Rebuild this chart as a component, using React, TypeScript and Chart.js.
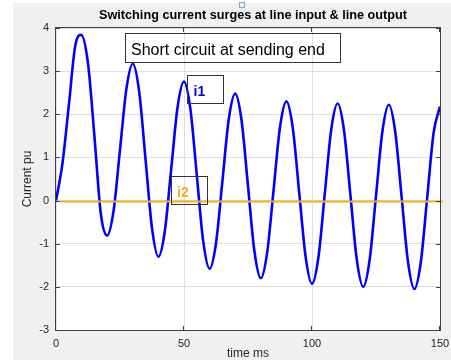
import React, { useEffect, useRef } from 'react';
import { Chart, registerables } from 'chart.js';

Chart.register(...registerables);

// ---- data ----
const timeI1 = [
  0, 2.5, 5, 7.5, 9.8, 12.5, 15, 17.5, 20, 22.5, 25, 27.5, 30, 32.5, 35, 37.5, 40, 42.5, 45, 47.5,
  50, 52.5, 55, 57.5, 60, 62.5, 65, 67.5, 70, 72.5, 75, 77.5, 80, 82.5, 85, 87.5, 90, 92.5, 95, 97.5,
  100, 102.5, 105, 107.5, 110, 112.5, 115, 117.5, 120, 122.5, 125, 127.5, 130, 132.5, 135, 137.5, 140,
  142.5, 145, 147.5, 150,
];
const currentI1 = [
  0, 0.85, 2.2, 3.58, 3.84, 3.18, 1.5, -0.3, -0.81, -0.23, 1.18, 2.59, 3.17, 2.52, 0.94, -0.64, -1.3,
  -0.71, 0.73, 2.17, 2.76, 2.12, 0.59, -0.94, -1.58, -0.99, 0.45, 1.89, 2.48, 1.85, 0.34, -1.17, -1.8,
  -1.2, 0.25, 1.7, 2.3, 1.68, 0.19, -1.3, -1.93, -1.32, 0.16, 1.64, 2.25, 1.63, 0.13, -1.37, -2.0,
  -1.38, 0.11, 1.6, 2.22, 1.6, 0.09, -1.42, -2.05, -1.43, 0.07, 1.57, 2.18,
];
const timeI2 = [1.6, 151.2];
const currentI2 = [-0.02, -0.02];

const xTickValues = [0, 50, 100, 150];
const yTickValues = [-3, -2, -1, 0, 1, 2, 3, 4];

const titleText = 'Switching current surges at line input & line output';
const xAxisTitle = 'time ms';
const yAxisTitle = 'Current pu';
const noteText = 'Short circuit at sending end';
const labelI1 = 'i1';
const labelI2 = 'i2';

const FONT = "'Liberation Sans', Arial, Helvetica, sans-serif";
const BLUE = '#0000ff';
const ORANGE = '#edb120';
const AXIS = '#262626';

const decorPlugin = {
  id: 'decor',
  beforeDraw(chart: any) {
    const { ctx, chartArea: a, width, height } = chart;
    ctx.save();
    ctx.fillStyle = '#ffffff';
    ctx.fillRect(0, 0, width, height);
    ctx.fillStyle = '#f0f0f0';
    ctx.fillRect(13, 3, width - 13, 357);
    ctx.fillStyle = '#ffffff';
    ctx.fillRect(a.left, a.top, a.right - a.left, a.bottom - a.top);
    ctx.restore();
  },
  afterDraw(chart: any) {
    const { ctx, chartArea: a } = chart;
    const xs = chart.scales.x;
    const ys = chart.scales.y;
    ctx.save();
    // axes box
    ctx.strokeStyle = '#404040';
    ctx.lineWidth = 1;
    ctx.strokeRect(a.left - 0.5, a.top - 0.5, a.right - a.left + 1, a.bottom - a.top + 1);
    // inward tick marks
    ctx.beginPath();
    yTickValues.forEach((v) => {
      const py = Math.round(ys.getPixelForValue(v)) + 0.5;
      ctx.moveTo(a.left, py);
      ctx.lineTo(a.left + 4, py);
      ctx.moveTo(a.right, py);
      ctx.lineTo(a.right - 4, py);
    });
    xTickValues.forEach((v) => {
      const px = Math.round(xs.getPixelForValue(v)) - 0.5;
      ctx.moveTo(px, a.bottom);
      ctx.lineTo(px, a.bottom - 4);
      ctx.moveTo(px, a.top);
      ctx.lineTo(px, a.top + 4);
    });
    ctx.stroke();

    // title
    ctx.fillStyle = '#000000';
    ctx.font = `bold 12.7px ${FONT}`;
    ctx.textAlign = 'center';
    ctx.textBaseline = 'middle';
    ctx.fillText(titleText, 253, 15);

    // small selection handle
    ctx.strokeStyle = '#7aa7d8';
    ctx.strokeRect(239.5, 2.5, 5, 5);

    // annotation boxes
    ctx.strokeStyle = '#333333';
    ctx.lineWidth = 1;
    ctx.strokeRect(125.5, 33.5, 215, 29);
    ctx.fillStyle = '#000000';
    ctx.font = `16px ${FONT}`;
    ctx.textAlign = 'left';
    ctx.textBaseline = 'alphabetic';
    ctx.fillText(noteText, 131, 55);

    ctx.strokeRect(187.5, 75.5, 36, 28);
    ctx.fillStyle = BLUE;
    ctx.font = `bold 14px ${FONT}`;
    ctx.fillText(labelI1, 193.5, 96);

    ctx.strokeRect(171.5, 176.5, 36, 28);
    ctx.fillStyle = ORANGE;
    ctx.fillText(labelI2, 177, 197);
    ctx.restore();
  },
};

export default function App() {
  const canvasRef = useRef<HTMLCanvasElement | null>(null);

  useEffect(() => {
    if (!canvasRef.current) return;
    const chart = new Chart(canvasRef.current, {
      type: 'line',
      data: {
        datasets: [
          {
            label: labelI1,
            data: timeI1.map((t, i) => ({ x: t, y: currentI1[i] })),
            borderColor: BLUE,
            borderWidth: 2.6,
            pointRadius: 0,
            cubicInterpolationMode: 'monotone',
            fill: false,
            order: 1,
          },
          {
            label: labelI2,
            data: timeI2.map((t, i) => ({ x: t, y: currentI2[i] })),
            borderColor: ORANGE,
            borderWidth: 2,
            pointRadius: 0,
            fill: false,
            clip: false as any,
            order: 0,
          },
        ],
      },
      options: {
        animation: false,
        responsive: false,
        maintainAspectRatio: false,
        layout: { padding: { left: 0, right: 11, top: 28, bottom: 0 } },
        plugins: {
          legend: { display: false },
          title: { display: false },
          tooltip: { enabled: false },
        },
        scales: {
          x: {
            type: 'linear',
            min: 0,
            max: 150,
            afterBuildTicks: (s: any) => {
              s.ticks = xTickValues.map((v) => ({ value: v }));
            },
            afterFit: (s: any) => {
              s.height = 33;
              s.paddingLeft = 0;
              s.paddingRight = 0;
            },
            ticks: {
              font: { family: FONT, size: 11 },
              color: AXIS,
              padding: 7,
              maxRotation: 0,
              autoSkip: false,
            },
            grid: { color: '#dfdfdf', drawTicks: false, lineWidth: 1 },
            border: { display: false },
            title: {
              display: true,
              text: xAxisTitle,
              font: { family: FONT, size: 12 },
              color: AXIS,
              padding: { top: 0, bottom: 2 },
            },
          },
          y: {
            type: 'linear',
            min: -3,
            max: 4,
            afterBuildTicks: (s: any) => {
              s.ticks = yTickValues.map((v) => ({ value: v }));
            },
            afterFit: (s: any) => {
              s.width = 56;
              s.paddingTop = 0;
              s.paddingBottom = 0;
            },
            ticks: {
              font: { family: FONT, size: 11 },
              color: AXIS,
              padding: 7,
              autoSkip: false,
            },
            grid: { color: '#dfdfdf', drawTicks: false, lineWidth: 1 },
            border: { display: false },
            title: {
              display: true,
              text: yAxisTitle,
              font: { family: FONT, size: 12 },
              color: AXIS,
              padding: { top: 20.8, bottom: 0 },
            },
          },
        },
      } as any,
      plugins: [decorPlugin],
    });
    return () => chart.destroy();
  }, []);

  return (
    <div style={{ position: 'absolute', left: 0, top: 0, width: 451, height: 363 }}>
      <canvas ref={canvasRef} width={451} height={363} style={{ display: 'block' }} />
    </div>
  );
}
